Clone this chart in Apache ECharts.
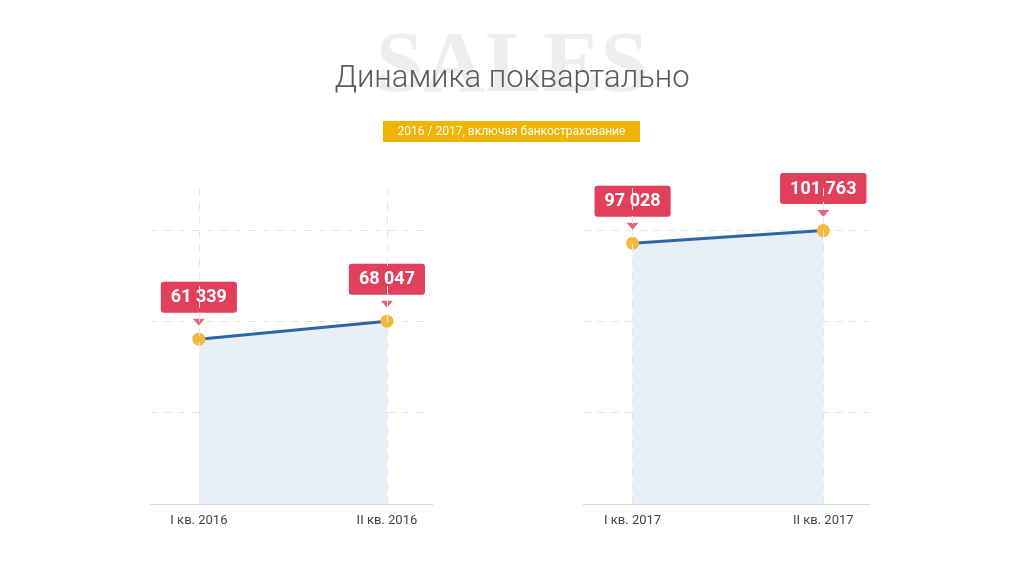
<!DOCTYPE html>
<html><head><meta charset="utf-8">
<script src="https://cdn.jsdelivr.net/npm/echarts@6/dist/echarts.min.js"></script>
<style>html,body{margin:0;background:#fff}#c{width:1024px;height:576px}</style></head>
<body><div id="c"></div>
<script>
const categories2016 = ['I кв. 2016', 'II кв. 2016'];
const categories2017 = ['I кв. 2017', 'II кв. 2017'];
const values2016 = [61339, 68047];
const values2017 = [97028, 101763];
const fmt = v => String(v).replace(/\B(?=(\d{3})+(?!\d))/g, ' ');

const chart = echarts.init(document.getElementById('c'));
const grids = [{left:150, width:283, top:188, bottom:72},{left:583, width:287, top:188, bottom:72}];
function axes(i){
  return {
    x:{type:'value', gridIndex:i, min:-0.26, max:1.245, axisLabel:{show:false}, axisTick:{show:false}, splitLine:{show:false},
       axisLine:{show:true, onZero:false, lineStyle:{color:'#dcdcdc'}}},
    y:{type:'value', gridIndex:i, min:0, max:117600, interval:34000, axisLabel:{show:false}, axisTick:{show:false}, axisLine:{show:false},
       splitLine:{lineStyle:{type:[8,6], color:['#e6e6e6','#e6e6e6','#e6e6e6','#e6e6e6','rgba(0,0,0,0)']}}}
  };
}
function series(i, cats, vals){
  const data = vals.map((v,k)=>[k,v]);
  return [
    {type:'line', xAxisIndex:i, yAxisIndex:i, data, symbol:'circle', symbolSize:13,
     itemStyle:{color:'#f5b83d'}, lineStyle:{color:'#2c66a8', width:3},
     areaStyle:{color:'#e8eff7', opacity:1},
     label:{show:true, position:'top', distance:20, formatter:p=>fmt(p.value[1]), color:'#fff', fontWeight:'bold', fontSize:18,
            fontFamily:'Roboto', backgroundColor:'#e2405a', borderRadius:3, padding:[7,10,6,10]},
     markLine:{symbol:'none', silent:true, lineStyle:{color:'#e3e8ef', type:[8,6], width:1},
       label:{show:true, position:'start', distance:10, color:'#444', fontSize:13, fontFamily:'Roboto', formatter:p=>cats[p.value]},
       data:[{xAxis:0},{xAxis:1}]}, z:3},
    {type:'scatter', xAxisIndex:i, yAxisIndex:i, data, symbol:'triangle', symbolRotate:180, symbolSize:[12,7],
     symbolOffset:[0,-17], itemStyle:{color:'#e2405a'}, z:4, silent:true}
  ];
}
const a0 = axes(0), a1 = axes(1);
chart.setOption({
  animation:false,
  graphic:[
    {type:'text', left:'center', top:26, z:0, style:{text:'SALES', font:'bold 86px "Liberation Serif"', fill:'#eeeeee'}},
    {type:'text', left:'center', top:64, z:1, style:{text:'Динамика поквартально', font:'300 31px Roboto', fill:'#5a5a5a'}},
    {type:'rect', shape:{x:383, y:121, width:257, height:21}, style:{fill:'#f0b400'}},
    {type:'text', x:511.5, y:131.5, style:{text:'2016 / 2017, включая банкострахование', font:'12px Roboto', fill:'#fff', align:'center', verticalAlign:'middle'}}
  ],
  grid:grids,
  xAxis:[a0.x, a1.x],
  yAxis:[a0.y, a1.y],
  series:[...series(0, categories2016, values2016), ...series(1, categories2017, values2017)]
});
</script></body></html>
